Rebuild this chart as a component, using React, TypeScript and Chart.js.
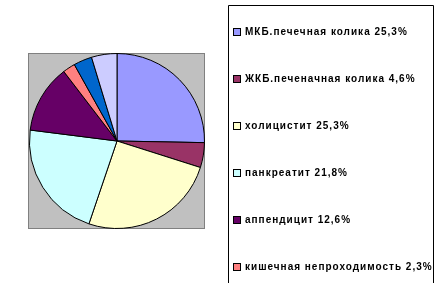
import React, { useEffect, useRef } from "react";
import { Chart, registerables } from "chart.js";

Chart.register(...registerables);

const categories = [
  "МКБ.печечная колика 25,3%",
  "ЖКБ.печеначная колика 4,6%",
  "холицистит 25,3%",
  "панкреатит 21,8%",
  "аппендицит 12,6%",
  "кишечная непроходимость 2,3%",
  "прободная язва 3,4%",
  "прочие 4,7%",
];
const values = [25.3, 4.6, 25.3, 21.8, 12.6, 2.3, 3.4, 4.7];
const colors = [
  "#9999FF",
  "#993366",
  "#FFFFCC",
  "#CCFFFF",
  "#660066",
  "#FF8080",
  "#0066CC",
  "#CCCCFF",
];

const framePlugin = {
  id: "frame",
  beforeDatasetsDraw(chart: any) {
    const ctx = chart.ctx;
    const a = chart.chartArea;
    ctx.save();
    ctx.fillStyle = "#C0C0C0";
    ctx.fillRect(a.left - 1, a.top, a.right - a.left + 1, a.bottom - a.top);
    ctx.strokeStyle = "#808080";
    ctx.lineWidth = 1;
    ctx.strokeRect(a.left - 0.5, a.top + 0.5, a.right - a.left, a.bottom - a.top - 1);
    ctx.restore();
  },
  afterDraw(chart: any) {
    const ctx = chart.ctx;
    ctx.save();
    ctx.strokeStyle = "#000000";
    ctx.lineWidth = 1;
    ctx.beginPath();
    ctx.moveTo(228.5, 300);
    ctx.lineTo(228.5, 5.5);
    ctx.lineTo(433.5, 5.5);
    ctx.lineTo(433.5, 300);
    ctx.stroke();
    ctx.font = "bold 10px 'Liberation Sans', Arial, sans-serif";
    (ctx as any).letterSpacing = "1px";
    ctx.textBaseline = "middle";
    const labels = chart.data.labels as string[];
    const bg = chart.data.datasets[0].backgroundColor as string[];
    labels.forEach((lab, i) => {
      const y = 32 + i * 47;
      ctx.fillStyle = bg[i];
      ctx.fillRect(234, y - 3, 6, 6);
      ctx.strokeStyle = "#000";
      ctx.strokeRect(233.5, y - 3.5, 7, 7);
      ctx.fillStyle = "#000";
      ctx.fillText(lab, 245, y + 0.5);
    });
    ctx.restore();
  },
};

export default function App() {
  const ref = useRef<HTMLCanvasElement>(null);
  useEffect(() => {
    document.body.style.margin = "0";
    const chart = new Chart(ref.current!, {
      type: "pie",
      data: {
        labels: categories,
        datasets: [
          {
            data: values,
            backgroundColor: colors,
            borderColor: "#000000",
            borderWidth: 1,
          },
        ],
      },
      options: {
        responsive: false,
        animation: false,
        layout: { padding: { left: 29, right: 238, top: 53, bottom: 54 } },
        plugins: { legend: { display: false }, tooltip: { enabled: false } },
      },
      plugins: [framePlugin],
    });
    return () => chart.destroy();
  }, []);
  return (
    <div style={{ position: "fixed", left: 0, top: 0, width: 443, height: 283, background: "#fff" }}>
      <canvas ref={ref} width={443} height={283} style={{ display: "block" }} />
    </div>
  );
}
